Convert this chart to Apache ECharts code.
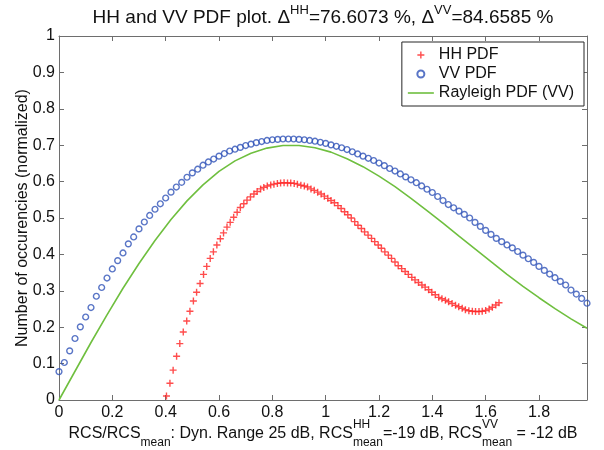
<!DOCTYPE html>
<html><head><meta charset="utf-8">
<script src="https://cdn.jsdelivr.net/npm/echarts@6/dist/echarts.min.js"></script>
<style>html,body{margin:0;padding:0;background:#fff}#c{width:604px;height:450px}</style>
</head><body><div id="c"></div>
<script>
// ---- data ----
const vvX = [0,0.02,0.04,0.06,0.08,0.1,0.12,0.14,0.16,0.18,0.2,0.22,0.24,0.26,0.28,0.3,0.32,0.34,0.36,0.38,0.4,0.42,0.44,0.46,0.48,0.5,0.52,0.54,0.56,0.58,0.6,0.62,0.64,0.66,0.68,0.7,0.72,0.74,0.76,0.78,0.8,0.82,0.84,0.86,0.88,0.9,0.92,0.94,0.96,0.98,1,1.02,1.04,1.06,1.08,1.1,1.12,1.14,1.16,1.18,1.2,1.22,1.24,1.26,1.28,1.3,1.32,1.34,1.36,1.38,1.4,1.42,1.44,1.46,1.48,1.5,1.52,1.54,1.56,1.58,1.6,1.62,1.64,1.66,1.68,1.7,1.72,1.74,1.76,1.78,1.8,1.82,1.84,1.86,1.88,1.9,1.92,1.94,1.96,1.98];
const vvY = [0.078,0.103,0.135,0.169,0.201,0.228,0.254,0.285,0.309,0.335,
0.360,0.383,0.404,0.429,0.448,0.470,0.489,0.507,0.524,0.539,
0.555,0.571,0.585,0.598,0.612,0.624,0.634,0.645,0.654,0.662,
0.670,0.677,0.684,0.689,0.694,0.699,0.703,0.707,0.710,0.713,
0.715,0.716,0.717,0.717,0.717,0.716,0.715,0.713,0.711,0.708,
0.705,0.701,0.697,0.693,0.688,0.682,0.676,0.670,0.664,0.658,
0.651,0.644,0.636,0.629,0.621,0.613,0.605,0.597,0.588,0.579,
0.570,0.559,0.548,0.537,0.528,0.519,0.510,0.500,0.488,0.477,
0.466,0.455,0.444,0.435,0.426,0.418,0.408,0.398,0.388,0.378,
0.367,0.356,0.346,0.336,0.326,0.316,0.302,0.291,0.279,0.266];
const hhX = [0.403,0.416,0.428,0.441,0.453,0.466,0.479,0.491,0.504,0.516,
0.529,0.542,0.554,0.567,0.579,0.592,0.605,0.617,0.630,0.642,
0.655,0.668,0.680,0.693,0.705,0.718,0.731,0.743,0.756,0.768,
0.781,0.794,0.806,0.819,0.831,0.844,0.857,0.869,0.882,0.894,
0.907,0.920,0.932,0.945,0.957,0.970,0.983,0.995,1.008,1.020,
1.033,1.046,1.058,1.071,1.083,1.096,1.109,1.121,1.134,1.146,
1.159,1.172,1.184,1.197,1.209,1.222,1.235,1.247,1.260,1.272,
1.285,1.298,1.310,1.323,1.335,1.348,1.361,1.373,1.386,1.398,
1.411,1.424,1.436,1.449,1.461,1.474,1.487,1.499,1.512,1.524,
1.537,1.550,1.562,1.575,1.587,1.600,1.613,1.625,1.638,1.650];
const hhY = [0.011,0.046,0.082,0.120,0.155,0.187,0.217,0.244,0.272,0.296,
0.320,0.345,0.367,0.389,0.407,0.426,0.443,0.459,0.475,0.488,
0.502,0.516,0.529,0.539,0.549,0.558,0.566,0.573,0.580,0.584,
0.588,0.591,0.593,0.595,0.596,0.597,0.596,0.596,0.595,0.593,
0.590,0.588,0.585,0.580,0.576,0.571,0.566,0.560,0.554,0.548,
0.542,0.534,0.526,0.517,0.509,0.500,0.490,0.480,0.471,0.462,
0.453,0.444,0.435,0.426,0.417,0.407,0.398,0.389,0.379,0.369,
0.361,0.353,0.345,0.337,0.330,0.323,0.316,0.310,0.303,0.296,
0.289,0.282,0.278,0.274,0.270,0.265,0.260,0.256,0.252,0.248,
0.245,0.244,0.243,0.243,0.244,0.246,0.250,0.255,0.261,0.267];
const rayX = [0,0.06,0.12,0.18,0.24,0.3,0.36,0.42,0.48,0.54,0.6,0.66,0.72,0.78,0.84,0.9,0.96,1.02,1.08,1.14,1.2,1.26,1.32,1.38,1.44,1.5,1.56,1.62,1.68,1.74,1.8,1.86,1.92,1.98];
const rayY = [0,0.079,0.158,0.234,0.307,0.375,0.438,0.496,0.547,0.591,0.628,0.657,0.678,0.692,0.699,0.699,0.693,0.681,0.663,0.641,0.615,0.586,0.554,0.520,0.486,0.450,0.415,0.380,0.345,0.312,0.281,0.251,0.223,0.197];
const seriesNames = ['HH PDF','VV PDF','Rayleigh PDF (VV)'];
const xRange = [0, 1.98], xStep = 0.2;
const yRange = [0, 1], yStep = 0.1;
const titleParts = [{text:'HH and VV PDF plot. \u0394'},{sup:'HH'},{text:'=76.6073 %, \u0394'},{sup:'VV'},{text:'=84.6585 %'}];
const xLabelParts = [{text:'RCS/RCS'},{sub:'mean'},{text:': Dyn. Range 25 dB, RCS'},{sup:'HH',sub:'mean'},{text:'=-19 dB, RCS'},{sup:'VV',sub:'mean'},{text:' = -12 dB'}];
const yLabel = 'Number of occurencies (normalized)';

// ---- layout / style ----
const FONT = '"Liberation Sans", Arial, sans-serif';
const G = {left:59, top:36, width:528, height:364};
const AX = '#6e6e6e';
const mctx = document.createElement('canvas').getContext('2d');
function tw(t, s){ mctx.font = s + 'px ' + FONT; return mctx.measureText(t).width; }
function txt(t, x, y, s){ return {type:'text', x:x, y:y, silent:true, style:{text:t, font: s+'px '+FONT, fill:'#111', align:'left', verticalAlign:'middle'}}; }
function buildRich(parts, cx, cy, main, small, supDy, subDy){
  let total = 0;
  parts.forEach(p => { p.w = p.text != null ? tw(p.text, main) : Math.max(p.sup ? tw(p.sup, small) : 0, p.sub ? tw(p.sub, small) : 0); total += p.w; });
  let x = cx - total/2; const els = [];
  parts.forEach(p => {
    if (p.text != null) els.push(txt(p.text, x, cy, main));
    else { if (p.sup) els.push(txt(p.sup, x, cy + supDy, small)); if (p.sub) els.push(txt(p.sub, x, cy + subDy, small)); }
    x += p.w;
  });
  return els;
}
const cx = G.left + G.width/2;
const graphics = buildRich(titleParts, cx, 18, 19, 13, -8, 0)
  .concat(buildRich(xLabelParts, cx, 434, 16, 12, -9, 9))
  .concat([{type:'text', x:23, y:G.top + G.height/2, rotation:Math.PI/2, silent:true,
            style:{text:yLabel, font:'16px '+FONT, fill:'#111', align:'center', verticalAlign:'middle'}}]);

function isMult(v, s){ const r = v / s; return Math.abs(r - Math.round(r)) < 1e-6; }
function fmt(v){ return String(+v.toFixed(1)); }
const axisLine = {show:true, onZero:false, lineStyle:{color:AX, width:1}};
const tick = {show:true, inside:true, length:5, lineStyle:{color:AX, width:1}};
const PLUS = 'path://M-0.2,-1L0.2,-1L0.2,-0.2L1,-0.2L1,0.2L0.2,0.2L0.2,1L-0.2,1L-0.2,0.2L-1,0.2L-1,-0.2L-0.2,-0.2Z';
const LINEICON = 'path://M0,0L26,0L26,1.6L0,1.6Z';
const GREEN = '#6fbf3f';

const chart = echarts.init(document.getElementById('c'), null, {renderer:'canvas'});
chart.setOption({
  animation:false,
  backgroundColor:'#fff',
  textStyle:{fontFamily:FONT},
  grid:{left:G.left, top:G.top, width:G.width, height:G.height, containLabel:false},
  legend:{
    orient:'vertical', right:20, top:42, backgroundColor:'#fff', borderColor:'#262626', borderWidth:1,
    padding:[5,10,5,6], itemGap:3, itemWidth:26, itemHeight:7,
    textStyle:{fontSize:16, color:'#111', fontFamily:FONT},
    data:[{name:seriesNames[0]},{name:seriesNames[1]},
          {name:seriesNames[2], icon:LINEICON, itemStyle:{color:GREEN, borderWidth:0}}]
  },
  xAxis:[
    {type:'value', min:xRange[0], max:xRange[1], interval:xStep, position:'bottom',
     axisLine:axisLine, axisTick:tick, splitLine:{show:false},
     axisLabel:{fontSize:16, color:'#111', margin:5, fontFamily:FONT, showMaxLabel:false,
       formatter:v => isMult(v, xStep) ? fmt(v) : ''}},
    {type:'value', min:xRange[0], max:xRange[1], interval:xStep, position:'top',
     axisLine:axisLine, axisTick:tick, splitLine:{show:false}, axisLabel:{show:false}}
  ],
  yAxis:[
    {type:'value', min:yRange[0], max:yRange[1], interval:yStep, position:'left',
     axisLine:axisLine, axisTick:tick, splitLine:{show:false},
     axisLabel:{fontSize:16, color:'#111', margin:4, fontFamily:FONT, formatter:v => fmt(v)}},
    {type:'value', min:yRange[0], max:yRange[1], interval:yStep, position:'right',
     axisLine:axisLine, axisTick:tick, splitLine:{show:false}, axisLabel:{show:false}}
  ],
  series:[
    {name:seriesNames[0], type:'scatter', xAxisIndex:0, yAxisIndex:0,
     data:hhX.map((x,i) => [x, hhY[i]]), symbol:PLUS, symbolSize:7,
     itemStyle:{color:'#ff2020'}},
    {name:seriesNames[1], type:'scatter', xAxisIndex:0, yAxisIndex:0,
     data:vvX.map((x,i) => [x, vvY[i]]), symbol:'circle', symbolSize:5.8,
     itemStyle:{color:'rgba(255,255,255,0)', borderColor:'#2f52b8', borderWidth:1.4}},
    {name:seriesNames[2], type:'line', xAxisIndex:0, yAxisIndex:0,
     data:rayX.map((x,i) => [x, rayY[i]]), symbol:'none', showSymbol:false,
     lineStyle:{color:GREEN, width:1.6}, itemStyle:{color:GREEN}}
  ],
  graphic:graphics
});
</script>
</body></html>
